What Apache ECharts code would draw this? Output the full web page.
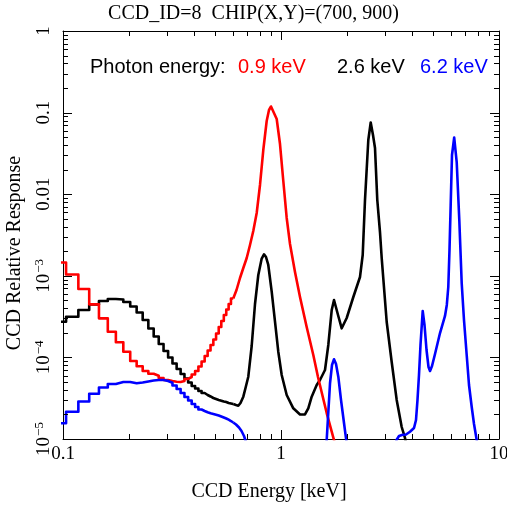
<!DOCTYPE html>
<html><head><meta charset="utf-8">
<script src="https://cdn.jsdelivr.net/npm/echarts@6/dist/echarts.min.js"></script>
<style>html,body{margin:0;padding:0;background:#fff}#c{width:507px;height:506px}</style>
</head><body><div id="c"></div>
<script>
// ---- data ----
// low-energy histogram bin edges [keV]
const lowEdges = [0.0890, 0.1033, 0.1176, 0.1319, 0.1462, 0.1605, 0.1748, 0.1891, 0.2034, 0.2177, 0.2320, 0.2463, 0.2606, 0.2749, 0.2892, 0.3035, 0.3178, 0.3321, 0.3464, 0.3607, 0.3750, 0.3893, 0.4036, 0.4179, 0.4322, 0.4465, 0.4608, 0.4751, 0.4894, 0.5037, 0.5180, 0.5323, 0.5466, 0.5609, 0.5752, 0.5895, 0.6038];
// 0.9 keV photons (red)
const redLow = [1.455e-3, 1.037e-3, 6.89e-4, 4.47e-4, 3.01e-4, 2.065e-4, 1.531e-4, 1.174e-4, 9.03e-5, 7.78e-5, 6.81e-5, 6.31e-5, 5.97e-5, 5.59e-5, 5.28e-5, 5.14e-5, 5.04e-5, 4.99e-5, 5.14e-5, 5.44e-5, 5.75e-5, 6.17e-5, 6.81e-5, 7.74e-5, 8.91e-5, 1.04e-4, 1.215e-4, 1.419e-4, 1.657e-4, 1.963e-4, 2.358e-4, 2.793e-4, 3.31e-4, 3.86e-4, 4.51e-4, 5.27e-4];
const redHiE = [0.6038, 0.6251, 0.6485, 0.6716, 0.6962, 0.7208, 0.7462, 0.7736, 0.8011, 0.8294, 0.8597, 0.8810, 0.8999, 0.9190, 0.9556, 0.9895, 1.0247, 1.0620, 1.0998, 1.1593, 1.2223, 1.3116, 1.4067, 1.4779, 1.6203, 1.7506, 1.8069];
const redHiV = [5.27e-4, 6.70e-4, 9.40e-4, 1.246e-3, 1.652e-3, 2.385e-3, 3.54e-3, 5.88e-3, 0.01297, 0.0348, 0.0789, 0.1076, 0.1188, 0.1139, 0.0835, 0.0412, 0.01451, 5.11e-3, 2.454e-3, 1.113e-3, 5.50e-4, 2.358e-4, 1.07e-4, 5.75e-5, 2.08e-5, 9.7e-6, 6.9e-6];
// 2.6 keV photons (black)
const blackLow = [2.74e-4, 3.153e-4, 3.81e-4, 4.45e-4, 4.91e-4, 5.20e-4, 5.12e-4, 4.77e-4, 4.20e-4, 3.55e-4, 2.873e-4, 2.26e-4, 1.804e-4, 1.46e-4, 1.198e-4, 9.97e-5, 8.42e-5, 7.21e-5, 6.26e-5, 5.51e-5, 4.93e-5, 4.46e-5, 4.16e-5, 3.88e-5, 3.66e-5, 3.46e-5, 3.32e-5, 3.18e-5, 3.09e-5, 3.01e-5, 2.95e-5, 2.88e-5, 2.84e-5, 2.76e-5, 2.72e-5, 2.685e-5];
const blackHiE = [0.6038, 0.6218, 0.6370, 0.6520, 0.6716, 0.6874, 0.7079, 0.7337, 0.7599, 0.7868, 0.8156, 0.8356, 0.8535, 0.8743, 0.9064, 0.9386, 0.9718, 1.0074, 1.0620, 1.1387, 1.2223, 1.2883, 1.3339, 1.3830, 1.4580, 1.5096, 1.5915, 1.6482, 1.7088, 1.7506, 1.8262, 1.8987, 2.0016, 2.1468, 2.3034, 2.3702, 2.4283, 2.5148, 2.5793, 2.6424, 2.6989, 2.7650, 2.8450, 2.8967, 3.0541, 3.2195, 3.3937, 3.5781, 3.7047, 3.7844];
const blackHiV = [2.685e-5, 2.61e-5, 2.558e-5, 2.762e-5, 3.30e-5, 4.22e-5, 5.80e-5, 1.379e-4, 4.51e-4, 1.023e-3, 1.629e-3, 1.834e-3, 1.70e-3, 1.357e-3, 6.39e-4, 2.74e-4, 1.174e-4, 6.09e-5, 3.46e-5, 2.378e-5, 1.996e-5, 2.0e-5, 2.38e-5, 3.30e-5, 4.59e-5, 5.28e-5, 7.01e-5, 1.419e-4, 3.81e-4, 5.05e-4, 3.31e-4, 2.273e-4, 3.04e-4, 5.50e-4, 9.67e-4, 1.798e-3, 8.49e-3, 0.0461, 0.0756, 0.0531, 0.0368, 8.49e-3, 3.44e-3, 1.652e-3, 2.715e-4, 8.78e-5, 3.01e-5, 1.403e-5, 1.029e-5, 7.76e-6];
// 6.2 keV photons (blue)
const blueLow = [1.557e-5, 2.161e-5, 2.88e-5, 3.59e-5, 4.28e-5, 4.72e-5, 4.99e-5, 4.99e-5, 4.82e-5, 4.93e-5, 5.07e-5, 5.21e-5, 5.28e-5, 5.28e-5, 5.14e-5, 4.90e-5, 4.52e-5, 4.10e-5, 3.66e-5, 3.27e-5, 2.96e-5, 2.685e-5, 2.467e-5, 2.298e-5, 2.203e-5, 2.124e-5, 2.065e-5, 2.025e-5, 1.985e-5, 1.941e-5, 1.887e-5, 1.834e-5, 1.783e-5, 1.724e-5, 1.661e-5, 1.593e-5];
const blueTailE = [0.6038, 0.6218, 0.6417, 0.6589, 0.6766, 0.6909, 0.7056];
const blueTailV = [1.593e-5, 1.505e-5, 1.383e-5, 1.253e-5, 1.088e-5, 9.19e-6, 7.33e-6];
const blueMidE = [1.5747, 1.6203, 1.6782, 1.7139, 1.7506, 1.7880, 1.8318, 1.8846, 1.9454, 1.9870, 2.0291];
const blueMidV = [6.37e-6, 9.72e-6, 4.82e-5, 8.07e-5, 9.48e-5, 8.30e-5, 5.80e-5, 3.01e-5, 1.571e-5, 1.02e-5, 6.9e-6];
const blueHiE = [3.298, 3.387, 3.478, 3.589, 3.745, 3.906, 4.075, 4.162, 4.228, 4.295, 4.364, 4.467, 4.553, 4.651, 4.750, 4.826, 4.929, 5.087, 5.363, 5.653, 5.762, 5.853, 5.928, 6.003, 6.087, 6.230, 6.397, 6.575, 6.743, 6.909, 7.109, 7.285, 7.496, 7.680, 7.902, 8.054];
const blueHiV = [6.9e-6, 9.72e-6, 1.088e-5, 1.12e-5, 1.135e-5, 1.229e-5, 1.364e-5, 1.709e-5, 3.01e-5, 6.09e-5, 1.419e-4, 3.70e-4, 2.495e-4, 1.232e-4, 7.63e-5, 6.81e-5, 7.85e-5, 1.10e-4, 1.99e-4, 3.22e-4, 4.39e-4, 7.29e-4, 2.07e-3, 7.37e-3, 0.0302, 0.0495, 0.0248, 4.83e-3, 8.16e-4, 2.873e-4, 1.07e-4, 4.59e-5, 2.467e-5, 1.527e-5, 9.72e-6, 6.9e-6];

// tick labels (decade exponents)
const xTickExp = [-1, 0, 1];
const xTickText = ['0.1', '1', '10'];
const yTickExp = [-5, -4, -3, -2, -1, 0];
const yTickText = [['10', '\u22125'], ['10', '\u22124'], ['10', '\u22123'], ['0.01', ''], ['0.1', ''], ['1', '']];

const titleText = 'CCD_ID=8  CHIP(X,Y)=(700, 900)';
const xName = 'CCD Energy [keV]';
const yName = 'CCD Relative Response';
const legendItems = [
  {text: 'Photon energy:', color: '#000000', left: 90},
  {text: '0.9 keV', color: '#ff0000', left: 238},
  {text: '2.6 keV', color: '#000000', left: 337},
  {text: '6.2 keV', color: '#0000ff', left: 420}
];

// ---- chart ----
const SERIF = 'Liberation Serif, Times New Roman, serif';
const SANS = 'Liberation Sans, Arial, Helvetica, sans-serif';
const black = '#000000';

function stepData(edges, vals) {
  const d = vals.map((v, i) => [edges[i], v]);
  d.push([edges[vals.length], vals[vals.length - 1]]);
  return d;
}
function pairs(es, vs) { return es.map((e, i) => [e, vs[i]]); }

const frameLine = {show: true, onZero: false, lineStyle: {color: black, width: 1}};

const xAxes = [
  {
    type: 'log', min: 0.1, max: 10, position: 'bottom',
    axisLine: frameLine, axisTick: {show: false}, splitLine: {show: false}, minorTick: {show: false},
    axisLabel: {
      margin: 6, color: black, fontFamily: SERIF, fontSize: 19,
      formatter: (v) => { const e = Math.round(Math.log10(v)); const i = xTickExp.indexOf(e); return i >= 0 ? xTickText[i] : ''; }
    },
    name: xName, nameLocation: 'middle', nameGap: 43,
    nameTextStyle: {fontFamily: SERIF, fontSize: 20, color: black, padding: [0, 24, 0, 0]}
  },
  {
    type: 'log', min: 0.1, max: 10, position: 'top',
    axisLine: frameLine, axisTick: {show: false}, axisLabel: {show: false}, splitLine: {show: false}, minorTick: {show: false}
  }
];

const yAxes = [
  {
    type: 'log', min: 1e-5, max: 1, position: 'left',
    axisLine: frameLine, axisTick: {show: false}, splitLine: {show: false}, minorTick: {show: false},
    axisLabel: {
      rotate: 90, margin: 7, color: black, fontFamily: SERIF, fontSize: 19,
      formatter: (v) => {
        const e = Math.round(Math.log10(v)); const i = yTickExp.indexOf(e);
        if (i < 0) return '';
        const t = yTickText[i];
        return t[1] ? '{b|' + t[0] + '}{s|' + t[1] + '}' : '{b|' + t[0] + '}';
      },
      rich: {
        b: {fontFamily: SERIF, fontSize: 19, lineHeight: 24, color: black, verticalAlign: 'middle'},
        s: {fontFamily: SERIF, fontSize: 13, color: black, verticalAlign: 'top', padding: [1, 0, 0, 1]}
      }
    },
    name: yName, nameLocation: 'middle', nameGap: 34,
    nameTextStyle: {fontFamily: SERIF, fontSize: 20, color: black, padding: [0, 36, 0, 0]}
  },
  {
    type: 'log', min: 1e-5, max: 1, position: 'right',
    axisLine: frameLine, axisTick: {show: false}, axisLabel: {show: false}, splitLine: {show: false}, minorTick: {show: false}
  }
];

function lineSeries(data, color, step) {
  return {
    type: 'line', xAxisIndex: 0, yAxisIndex: 0, data: data, step: step || false,
    showSymbol: false, symbol: 'none', smooth: false, clip: true,
    lineStyle: {color: color, width: 2.6, join: 'round', cap: 'butt'},
    itemStyle: {color: color}, emphasis: {disabled: true}, silent: true
  };
}

const titles = [{
  text: titleText, left: 'center', top: 4, padding: 0,
  textStyle: {fontFamily: SERIF, fontSize: 20, fontWeight: 'normal', color: black}
}].concat(legendItems.map(it => ({
  text: it.text, left: it.left, top: 57, padding: 0,
  textStyle: {fontFamily: SANS, fontSize: 20, fontWeight: 'normal', color: it.color}
})));

const option = {
  backgroundColor: '#ffffff',
  animation: false,
  title: titles,
  grid: {left: 63, right: 8, top: 31, bottom: 67, containLabel: false, outerBoundsMode: 'none'},
  xAxis: xAxes,
  yAxis: yAxes,
  series: [
    lineSeries(stepData(lowEdges, blackLow), '#000000', 'end'),
    lineSeries(pairs(blackHiE, blackHiV), '#000000'),
    lineSeries(stepData(lowEdges, redLow), '#ff0000', 'end'),
    lineSeries(pairs(redHiE, redHiV), '#ff0000'),
    lineSeries(stepData(lowEdges, blueLow), '#0000ff', 'end'),
    lineSeries(pairs(blueTailE, blueTailV), '#0000ff'),
    lineSeries(pairs(blueMidE, blueMidV), '#0000ff'),
    lineSeries(pairs(blueHiE, blueHiV), '#0000ff')
  ]
};

const chart = echarts.init(document.getElementById('c'), null, {renderer: 'canvas', width: 507, height: 506});
chart.setOption(option);

// Inward major/minor ticks on all four sides, placed through the axes' own log scales.
(function addTicks() {
  const crisp = (p) => Math.round(p) + 0.5;
  const xL = chart.convertToPixel({xAxisIndex: 0}, 0.1);
  const xR = chart.convertToPixel({xAxisIndex: 0}, 10);
  const yB = chart.convertToPixel({yAxisIndex: 0}, 1e-5);
  const yT = chart.convertToPixel({yAxisIndex: 0}, 1);
  const els = [];
  const seg = (x1, y1, x2, y2) => els.push({type: 'line', silent: true, z: 50,
    shape: {x1: x1, y1: y1, x2: x2, y2: y2}, style: {stroke: black, lineWidth: 1}});
  const xTickVals = [], yTickVals = [];
  for (let d = -1; d <= 1; d++) for (let k = 1; k <= (d < 1 ? 9 : 1); k++) xTickVals.push([k * Math.pow(10, d), k === 1]);
  for (let d = -5; d <= 0; d++) for (let k = 1; k <= (d < 0 ? 9 : 1); k++) yTickVals.push([k * Math.pow(10, d), k === 1]);
  xTickVals.forEach(([v, major]) => {
    const px = crisp(chart.convertToPixel({xAxisIndex: 0}, v));
    const len = major ? 9 : 5;
    seg(px, yB, px, yB - len);
    seg(px, yT, px, yT + len);
  });
  yTickVals.forEach(([v, major]) => {
    const py = crisp(chart.convertToPixel({yAxisIndex: 0}, v));
    const len = major ? 9 : 5;
    seg(xL, py, xL + len, py);
    seg(xR, py, xR - len, py);
  });
  chart.setOption({graphic: {elements: els}});
})();
</script>
</body></html>
